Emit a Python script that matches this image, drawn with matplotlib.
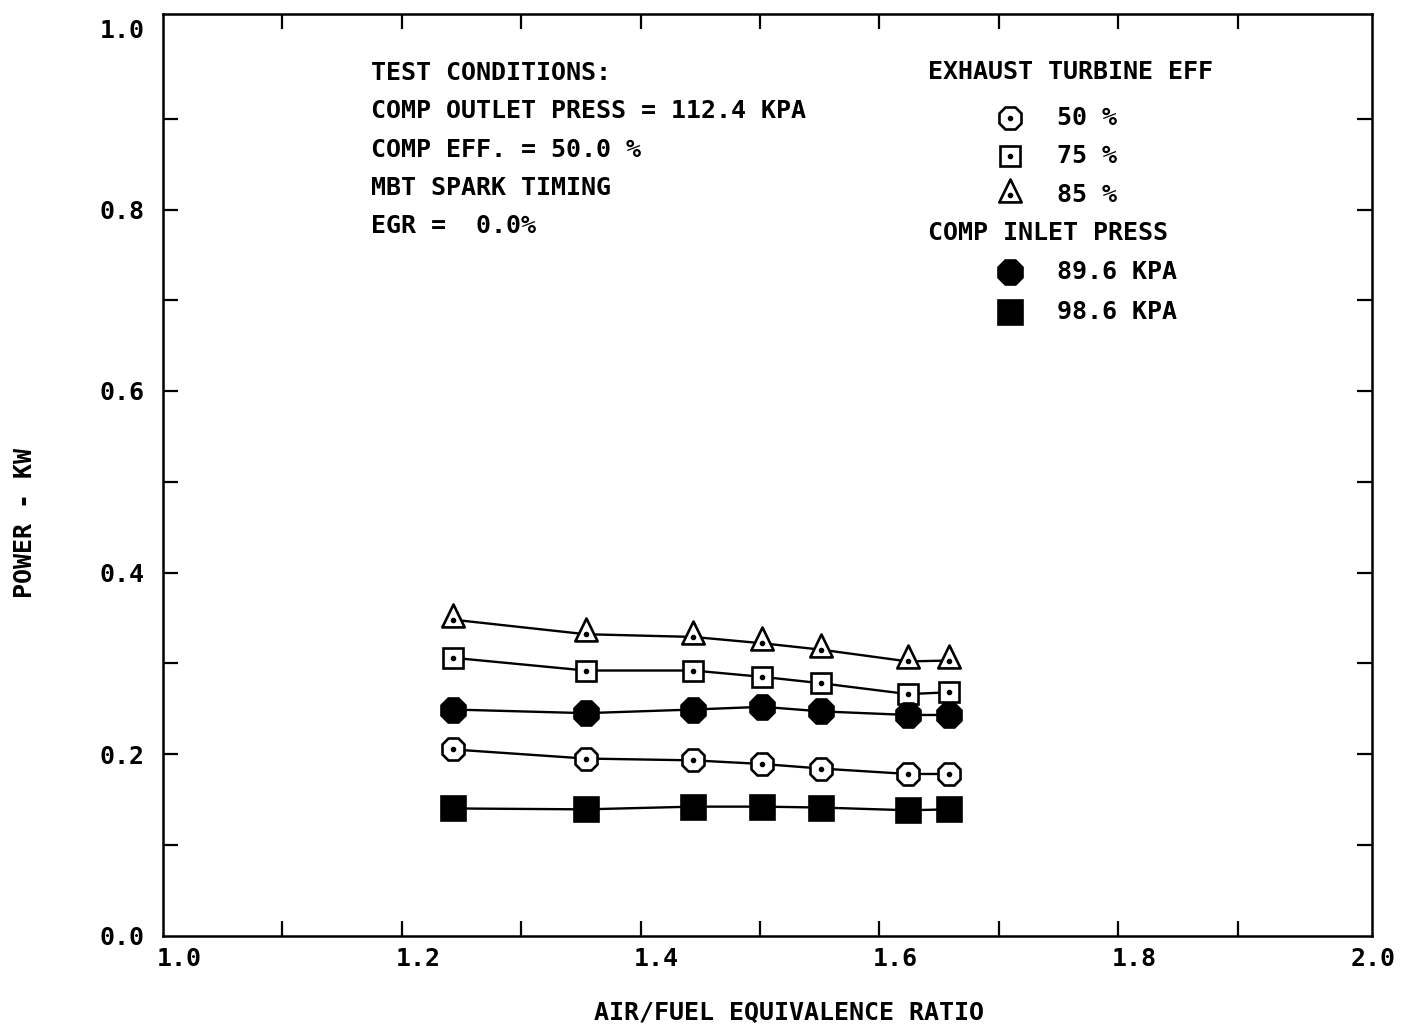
import matplotlib
matplotlib.use("Agg")
import matplotlib.pyplot as plt
from matplotlib.lines import Line2D
from matplotlib.path import Path
from matplotlib.transforms import ScaledTranslation

# Air/fuel equivalence ratio for each operating point
equiv_ratio = [1.243, 1.354, 1.444, 1.502, 1.551, 1.624, 1.658]

# Power (kW) by exhaust turbine efficiency
power_turb50 = [0.205, 0.195, 0.193, 0.189, 0.184, 0.178, 0.178]
power_turb75 = [0.306, 0.292, 0.292, 0.285, 0.278, 0.266, 0.268]
power_turb85 = [0.348, 0.332, 0.329, 0.322, 0.315, 0.302, 0.303]

# Power (kW) by compressor inlet pressure
power_inlet896 = [0.249, 0.245, 0.249, 0.252, 0.247, 0.243, 0.243]
power_inlet986 = [0.140, 0.139, 0.142, 0.142, 0.141, 0.138, 0.139]

x_ticklabels = ["1.0", "1.2", "1.4", "1.6", "1.8", "2.0"]
y_ticklabels = ["0.0", "0.2", "0.4", "0.6", "0.8", "1.0"]

FONT = "DejaVu Sans Mono"
FS = 18
FW = "bold"
W, H = 1407, 1029

fig = plt.figure(figsize=(W / 100, H / 100), dpi=100)
fig.patch.set_facecolor("white")

left, right, bottom, top = 163, 1372, 935.5, 13.5
ax = fig.add_axes([left / W, (H - bottom) / H, (right - left) / W, (bottom - top) / H])


def fpos(x, y):
    """Figure-fraction position from pixel coordinates (origin top-left)."""
    return x / W, 1 - y / H


# Closed triangle whose centroid sits on the data point
TRI = Path([(0, 15), (-10.5, -6.5), (10.5, -6.5), (0, 15)],
           [Path.MOVETO, Path.LINETO, Path.LINETO, Path.CLOSEPOLY])

# marker sizes (points)
MS_OCT, MS_SQ, MS_TRI, MS_FOCT, MS_FSQ = 17, 15, 23, 18.5, 17

line_kw = dict(color="black", lw=1.7, mew=1.9, mec="black")
ax.plot(equiv_ratio, power_turb85, marker=TRI, ms=MS_TRI, mfc="white", **line_kw)
ax.plot(equiv_ratio, power_turb75, marker="s", ms=MS_SQ, mfc="white", **line_kw)
ax.plot(equiv_ratio, power_inlet896, marker="8", ms=MS_FOCT, mfc="black", **line_kw)
ax.plot(equiv_ratio, power_turb50, marker="8", ms=MS_OCT, mfc="white", **line_kw)
ax.plot(equiv_ratio, power_inlet986, marker="s", ms=MS_FSQ, mfc="black", **line_kw)

# centre dots of the open symbols
for series in (power_turb85, power_turb75, power_turb50):
    ax.plot(equiv_ratio, series, ls="none", marker="o", ms=3, color="black")

ax.set_xlim(1.0, 1.0 + (right - left) / 1194)
ax.set_ylim(0.0, (bottom - top) / 907.5)

# Labelled ticks every 0.2 (no mark), tick marks every 0.1 inside the frame
ax.xaxis.remove_overlapping_locs = False
ax.yaxis.remove_overlapping_locs = False
ax.set_xticks([1.0, 1.2, 1.4, 1.6, 1.8, 2.0])
ax.set_xticklabels(x_ticklabels, fontfamily=FONT, fontsize=FS, fontweight=FW)
ax.set_yticks([0.0, 0.2, 0.4, 0.6, 0.8, 1.0])
ax.set_yticklabels(y_ticklabels, fontfamily=FONT, fontsize=FS, fontweight=FW)
ax.tick_params(which="major", length=0, pad=8)
ax.tick_params(axis="y", which="major", pad=13)

ax.set_xticks([1.1 + 0.1 * i for i in range(9)], minor=True)
ax.set_yticks([0.1 + 0.1 * i for i in range(9)], minor=True)
ax.tick_params(which="minor", direction="in", length=11, width=1.6,
               top=True, right=True, bottom=True, left=True)

shift = ScaledTranslation(0.16, 0, fig.dpi_scale_trans)
for lbl in ax.get_xticklabels():
    lbl.set_transform(lbl.get_transform() + shift)

for sp in ax.spines.values():
    sp.set_linewidth(1.8)

txt_kw = dict(fontfamily=FONT, fontsize=FS, fontweight=FW)

fig.text(*fpos(789, 1013), "AIR/FUEL EQUIVALENCE RATIO", ha="center", va="center", **txt_kw)
fig.text(*fpos(25, 523), "POWER - KW", ha="center", va="center", rotation=90, **txt_kw)

# Test conditions block
conditions = [
    "TEST CONDITIONS:",
    "COMP OUTLET PRESS = 112.4 KPA",
    "COMP EFF. = 50.0 %",
    "MBT SPARK TIMING",
    "EGR =  0.0%",
]
for i, txt in enumerate(conditions):
    fig.text(*fpos(371, 73 + 38.3 * i), txt, ha="left", va="center", **txt_kw)

# Symbol key
fig.text(*fpos(928, 72), "EXHAUST TURBINE EFF", ha="left", va="center", **txt_kw)
fig.text(*fpos(928, 233), "COMP INLET PRESS", ha="left", va="center", **txt_kw)

key = [
    (118, "8", MS_OCT, "white", "50 %"),
    (156, "s", MS_SQ, "white", "75 %"),
    (195, TRI, MS_TRI, "white", "85 %"),
    (272, "8", MS_FOCT, "black", "89.6 KPA"),
    (312, "s", MS_FSQ, "black", "98.6 KPA"),
]
for y, mk, ms, fc, txt in key:
    fx, fy = fpos(1010, y)
    fig.add_artist(Line2D([fx], [fy], transform=fig.transFigure, ls="none",
                          marker=mk, ms=ms, mfc=fc, mec="black", mew=1.9))
    if fc == "white":
        fig.add_artist(Line2D([fx], [fy], transform=fig.transFigure, ls="none",
                              marker="o", ms=3, color="black"))
    fig.text(*fpos(1057, y), txt, ha="left", va="center", **txt_kw)

fig.savefig("out.png", dpi=100, facecolor="white")
